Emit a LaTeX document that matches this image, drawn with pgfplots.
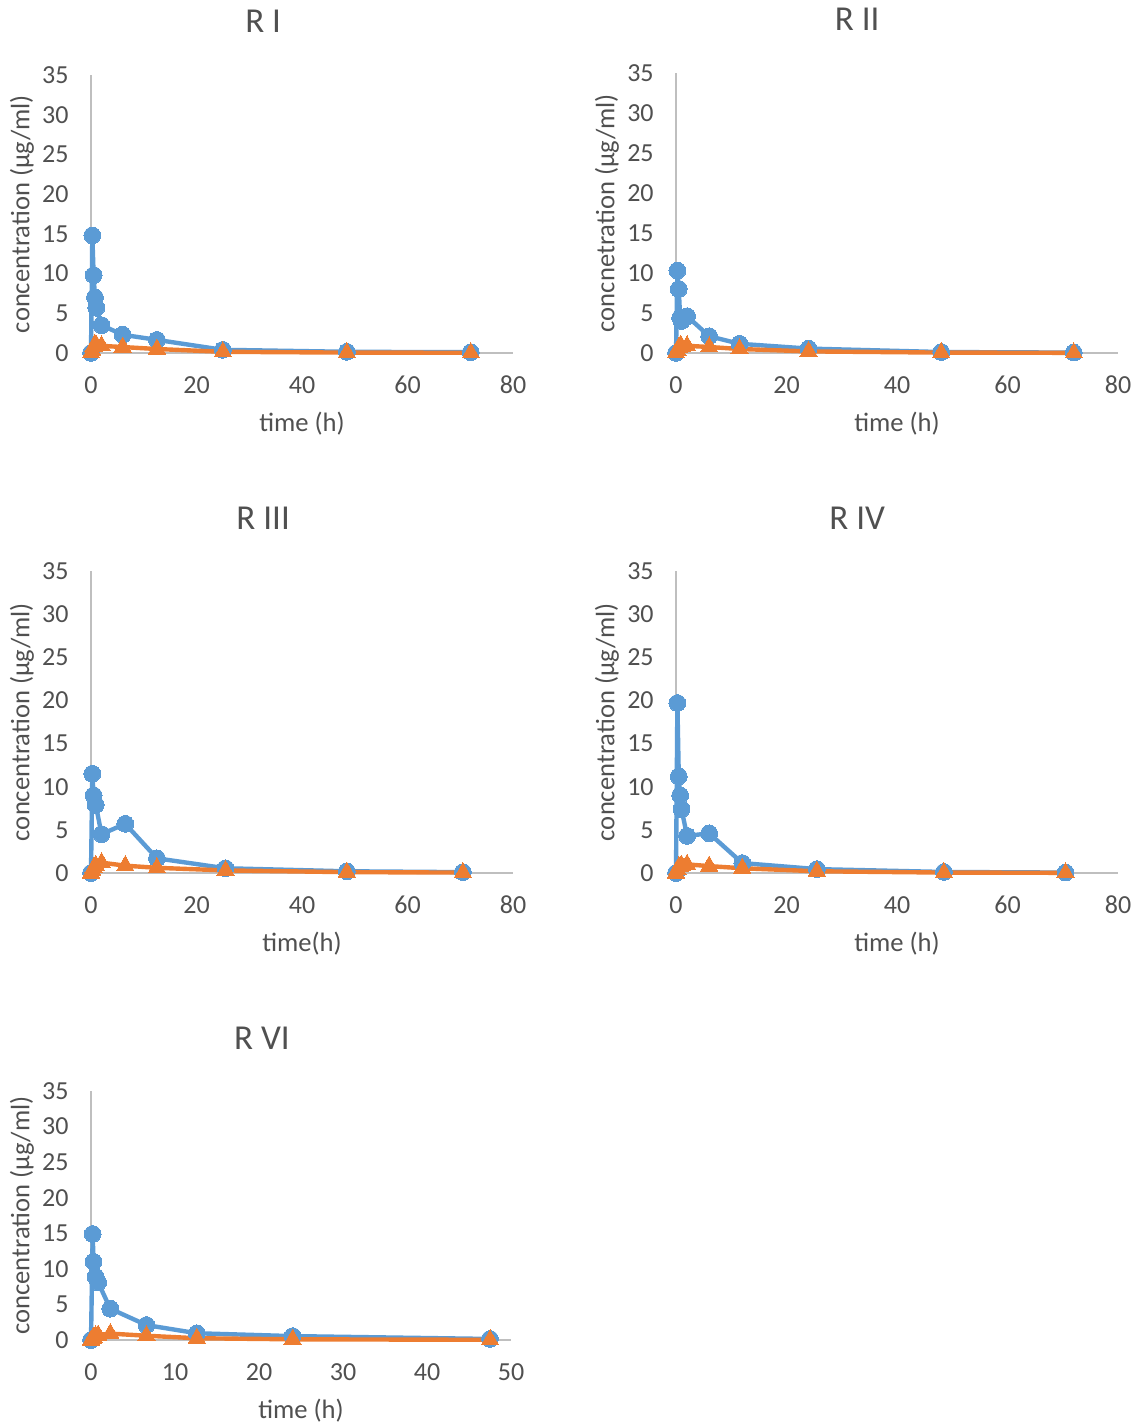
\documentclass[border=0pt]{standalone}
\usepackage{fontspec}
\setmainfont{Carlito}
\usepackage{pgfplots}
\pgfplotsset{compat=1.18}
\definecolor{xlblue}{RGB}{91,155,213}
\definecolor{xlorange}{RGB}{237,125,49}
\definecolor{xltext}{RGB}{80,80,80}
\definecolor{xlaxis}{RGB}{191,191,191}
% one "px" of the reference = 0.5pt
\pgfplotsset{
  panel/.style={
    scale only axis,
    anchor=south west,
    axis x line=bottom, axis y line=left,
    axis line style={-, draw=xlaxis, line width=0.8pt},
    xmin=0, ymin=0, ymax=35,
    ytick={0,5,...,35},
    major tick length=0pt,
    clip=false,
    /pgf/number format/assume math mode=true,
    tick label style={font=\fontsize{13}{15}\selectfont, text=xltext, inner sep=0pt},
    xticklabel style={anchor=base, yshift=-20pt},
    yticklabel style={anchor=east, xshift=-11pt},
    label style={font=\fontsize{13.3}{15}\selectfont, text=xltext},
    xlabel style={at={([yshift=-35.5pt]axis description cs:0.5,0)}, anchor=center},
    ylabel style={at={([xshift=-34.5pt]axis description cs:0,0.5)}, anchor=center},
    title style={font=\fontsize{17.5}{20}\selectfont, text=xltext, anchor=base, yshift=15pt},
  },
  blue/.style={color=xlblue, line width=2.2pt, line join=round, mark=*, mark size=4.2pt, mark options={solid, line width=0pt}},
  orng/.style={color=xlorange, line width=2.2pt, line join=round, mark=triangle*, mark size=5pt, mark options={solid, line width=0pt}},
}

\begin{document}
\begin{tikzpicture}
\useasboundingbox (0,0) rectangle (569pt,-713.5pt);

% R I
\begin{axis}[panel, at={(45.5pt,-176.5pt)}, width=211pt, height=139pt,
  xmax=80, xtick={0,20,...,80},
  title={R I}, title style={at={(axis description cs:0.408,1)}},
  xlabel={time (h)}, ylabel={concentration (µg/ml)}]
\addplot[blue] coordinates {(0,0) (0.25,14.8) (0.5,9.8) (0.75,7.0) (1,5.7) (2,3.5) (6,2.3) (12.5,1.65) (25,0.4) (48.5,0.15) (72,0.1)};
\addplot[orng] coordinates {(0,0) (0.25,0.3) (0.5,0.8) (0.75,1.1) (1,1.0) (2,0.9) (6,0.75) (12.5,0.5) (25,0.15) (48.5,0.05) (72,0.03)};
\end{axis}

% R II
\begin{axis}[panel, at={(338pt,-176.5pt)}, width=221pt, height=140pt,
  xmax=80, xtick={0,20,...,80},
  title={R II}, title style={at={(axis description cs:0.41,1)}},
  xlabel={time (h)}, ylabel={concnetration (µg/ml)}]
\addplot[blue] coordinates {(0,0) (0.25,10.3) (0.5,8.0) (0.75,4.4) (1,4.0) (2,4.6) (6,2.1) (11.5,1.15) (24,0.55) (48,0.12) (72,0.05)};
\addplot[orng] coordinates {(0,0) (0.25,0.3) (0.5,0.7) (0.75,0.9) (1,0.8) (2,0.9) (6,0.75) (11.5,0.5) (24,0.2) (48,0.05) (72,0.02)};
\end{axis}

% R III
\begin{axis}[panel, at={(45.5pt,-436.5pt)}, width=211pt, height=151pt,
  xmax=80, xtick={0,20,...,80},
  title={R III}, title style={at={(axis description cs:0.408,1)}},
  xlabel={time(h)}, ylabel={concentration (µg/ml)}]
\addplot[blue] coordinates {(0,0) (0.25,11.5) (0.5,9.0) (0.9,7.9) (2,4.5) (6.5,5.7) (12.5,1.7) (25.5,0.55) (48.5,0.2) (70.5,0.1)};
\addplot[orng] coordinates {(0,0) (0.25,0.3) (0.5,0.6) (0.9,0.9) (2,1.2) (6.5,0.85) (12.5,0.6) (25.5,0.3) (48.5,0.1) (70.5,0.05)};
\end{axis}

% R IV
\begin{axis}[panel, at={(338pt,-436.5pt)}, width=221pt, height=151pt,
  xmax=80, xtick={0,20,...,80},
  title={R IV}, title style={at={(axis description cs:0.41,1)}},
  xlabel={time (h)}, ylabel={concentration (µg/ml)}]
\addplot[blue] coordinates {(0,0) (0.25,19.7) (0.5,11.2) (0.75,9.0) (1,7.4) (2,4.3) (6,4.6) (12,1.15) (25.5,0.45) (48.5,0.12) (70.5,0.05)};
\addplot[orng] coordinates {(0,0) (0.25,0.4) (0.5,0.7) (0.75,0.8) (1,0.9) (2,1.0) (6,0.8) (12,0.55) (25.5,0.2) (48.5,0.05) (70.5,0.02)};
\end{axis}

% R VI
\begin{axis}[panel, at={(45.5pt,-670pt)}, width=210pt, height=124.5pt,
  xmax=50, xtick={0,10,...,50},
  title={R VI}, title style={at={(axis description cs:0.407,1)}},
  xlabel={time (h)}, ylabel={concentration (µg/ml)}]
\addplot[blue] coordinates {(0,0) (0.2,14.9) (0.3,11.0) (0.55,8.9) (0.85,8.1) (2.3,4.4) (6.6,2.1) (12.6,0.95) (24,0.55) (47.5,0.15)};
\addplot[orng] coordinates {(0,0) (0.2,0.2) (0.3,0.4) (0.55,0.6) (0.85,0.7) (2.3,0.9) (6.6,0.6) (12.6,0.25) (24,0.1) (47.5,0.03)};
\end{axis}
\end{tikzpicture}
\end{document}
